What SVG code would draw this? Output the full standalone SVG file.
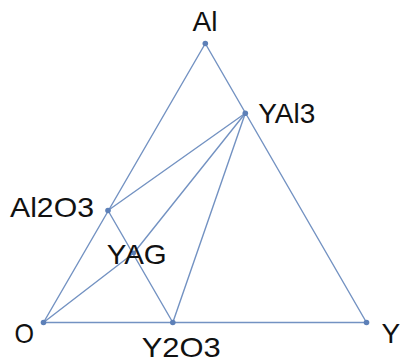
<svg xmlns="http://www.w3.org/2000/svg" width="401" height="363" viewBox="0 0 401 363">
  <style>
    .edge { stroke: #7392c2; stroke-width: 1.4; fill: none; stroke-linecap: round; }
    .pt { fill: #5d80b8; }
    .lbl { font-family: "Liberation Sans", Arial, sans-serif; font-size: 28px; fill: #111; }
  </style>
  <rect width="401" height="363" fill="#fff"/>
  <g id="connectors">
    <line class="edge" x1="43.5" y1="322.5" x2="205.3" y2="43.5"/>
    <line class="edge" x1="205.3" y1="43.5" x2="366.5" y2="322.5"/>
    <line class="edge" x1="43.5" y1="322.5" x2="366.5" y2="322.5"/>
    <line class="edge" x1="108" y1="210.5" x2="245.3" y2="113.3"/>
    <line class="edge" x1="108" y1="210.5" x2="172.8" y2="322.5"/>
    <line class="edge" x1="43.5" y1="322.5" x2="133.8" y2="253"/>
    <line class="edge" x1="133.8" y1="253" x2="245.3" y2="113.3"/>
    <line class="edge" x1="172.8" y1="322.5" x2="245.3" y2="113.3"/>
  </g>
  <g id="node-Al">
    <circle class="pt" cx="205.3" cy="43.5" r="2.8"/>
    <text class="lbl" x="192.5" y="31" textLength="25" lengthAdjust="spacingAndGlyphs">Al</text>
  </g>
  <g id="node-YAl3">
    <circle class="pt" cx="245.3" cy="113.3" r="2.8"/>
    <text class="lbl" x="258.3" y="123.3" textLength="57" lengthAdjust="spacingAndGlyphs">YAl3</text>
  </g>
  <g id="node-Al2O3">
    <circle class="pt" cx="108" cy="210.5" r="2.8"/>
    <text class="lbl" x="10" y="217.3" textLength="84" lengthAdjust="spacingAndGlyphs">Al2O3</text>
  </g>
  <g id="node-YAG">
    <circle class="pt" cx="133.8" cy="253" r="2.4"/>
    <text class="lbl" x="106.7" y="263.5" textLength="60" lengthAdjust="spacingAndGlyphs">YAG</text>
  </g>
  <g id="node-O">
    <circle class="pt" cx="43.5" cy="322.5" r="2.8"/>
    <text class="lbl" x="14.5" y="343.3" textLength="19.5" lengthAdjust="spacingAndGlyphs">O</text>
  </g>
  <g id="node-Y2O3">
    <circle class="pt" cx="172.8" cy="322.5" r="2.8"/>
    <text class="lbl" x="141.7" y="357.3" textLength="79" lengthAdjust="spacingAndGlyphs">Y2O3</text>
  </g>
  <g id="node-Y">
    <circle class="pt" cx="366.5" cy="322.5" r="2.8"/>
    <text class="lbl" x="381.5" y="343.3">Y</text>
  </g>
</svg>
